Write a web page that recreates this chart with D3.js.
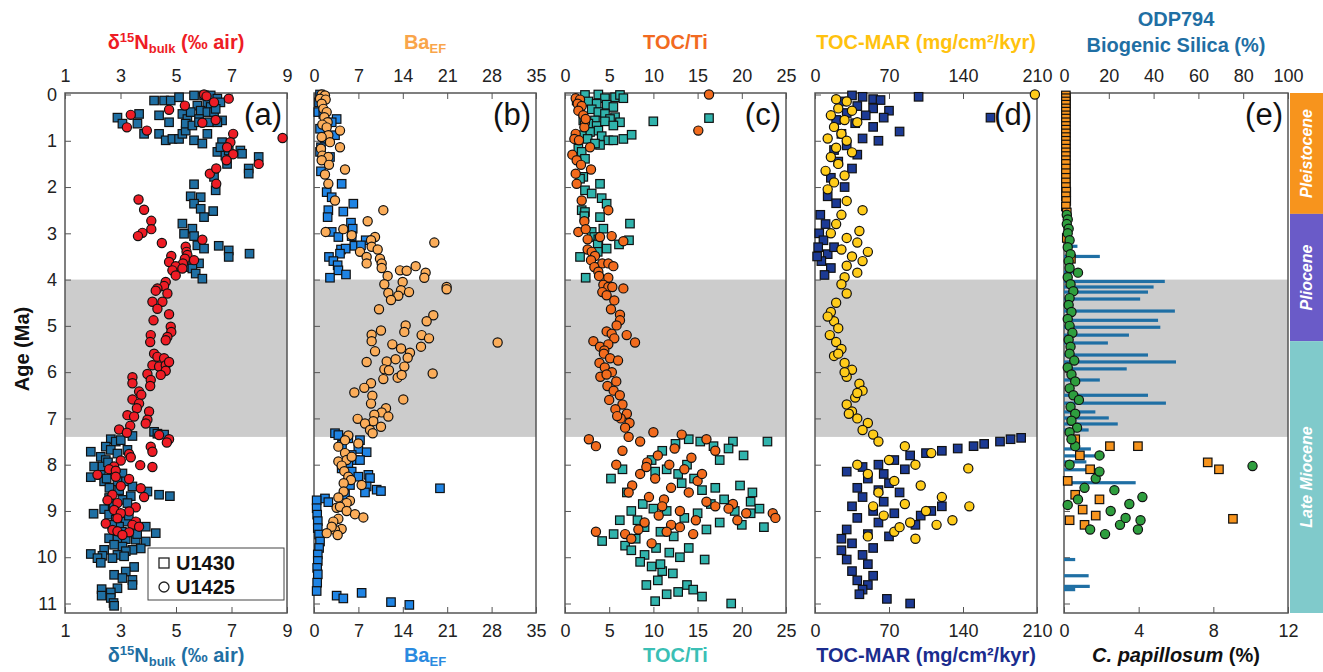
<!DOCTYPE html>
<html>
<head>
<meta charset="utf-8">
<script src="https://cdn.jsdelivr.net/npm/d3@7"></script>
<style>
  body { margin: 0; background: #fff; }
  svg text { font-family: "Liberation Sans", Arial, sans-serif; }
</style>
</head>
<body>
<div id="chart"></div>
<script>
// ---- data: [value, age Ma] ----
const d15nU1430 = [[4.21,0.13],[4.57,0.13],[4.81,0.13],[5.11,0.06],[5.65,0.02],[6.01,0.02],[6.25,0.02],[6.49,0.09],[6.13,0.2],[5.77,0.24],[6.25,0.27],[6.6,0.17],[2.89,0.5],[3.07,0.63],[3.67,0.42],[4.39,0.45],[4.75,0.6],[5.23,0.42],[5.41,0.53],[5.53,0.38],[5.89,0.35],[6.13,0.38],[6.37,0.38],[6.43,0.31],[6.66,0.56],[5.83,0.53],[3.61,0.63],[3.85,0.85],[4.39,0.85],[4.63,0.99],[4.87,0.96],[5.11,0.96],[5.23,0.85],[5.35,0.78],[5.35,0.63],[5.65,0.99],[5.95,1.06],[6.13,0.85],[5.59,0.67],[5.83,0.6],[6.19,0.6],[6.49,0.6],[6.66,1.03],[6.49,1.24],[6.6,1.14],[6.78,1.32],[6.9,1.21],[7.32,1.21],[7.38,1.28],[6.84,1.5],[7.62,1.6],[7.62,1.71],[7.98,1.35],[6.37,1.78],[6.43,2.07],[5.65,1.94],[5.53,2.2],[5.89,2.22],[5.65,2.36],[5.89,2.47],[6.01,2.65],[6.34,2.52],[5.23,2.79],[5.59,2.9],[5.29,3.01],[5.65,3.06],[5.77,3.26],[6.01,3.33],[6.54,3.27],[6.9,3.37],[6.9,3.51],[7.65,3.44],[5.41,3.73],[5.83,3.65],[5.59,3.76],[5.71,3.87],[5.95,3.98],
  [3.43,7.38],[4.21,7.29],[4.33,7.33],[4.57,7.35],[2.65,7.45],[2.83,7.5],[3.01,7.47],[2.47,7.61],[2.65,7.68],[2.89,7.76],[3.25,7.68],[1.93,7.72],[2.29,7.83],[2.47,7.9],[2.05,8.04],[2.35,8.04],[1.93,8.27],[2.29,8.22],[2.41,8.36],[3.07,8.19],[3.19,8.36],[2.89,8.36],[3.43,8.47],[3.97,8.58],[4.39,8.65],[4.78,8.68],[3.37,8.68],[2.59,8.72],[3.07,8.76],[3.25,8.83],[2.03,9.06],[2.41,8.96],[2.59,9.08],[2.83,9.19],[3.19,9.23],[3.55,9.27],[3.91,9.34],[4.27,9.48],[2.95,9.34],[2.59,9.59],[2.89,9.62],[3.19,9.61],[3.55,9.62],[3.91,9.66],[3.73,9.81],[3.43,9.84],[3.07,9.77],[2.77,9.73],[2.41,9.84],[3.19,9.87],[2.89,9.95],[2.35,9.97],[1.93,9.93],[2.17,10.02],[2.29,10.12],[2.71,10.02],[3.13,9.98],[3.49,10.21],[3.19,10.31],[2.77,10.38],[3.07,10.45],[3.43,10.49],[3.43,10.6],[2.89,10.67],[2.32,10.69],[2.32,10.83],[2.65,10.76],[2.65,10.88],[2.75,10.99],[2.77,11.05],
  [2.55,7.95],[2.75,8.1],[2.6,8.5],[2.95,8.55],[2.75,8.9],[3.05,9.45],[2.7,9.3],[3.3,9.1],[2.5,8.3],[3.6,9.5]];
const d15nU1425 = [[6.01,0.0],[6.1,0.04],[6.37,0.17],[6.9,0.09],[5.32,0.24],[4.75,0.33],[3.37,0.44],[3.23,0.71],[3.95,0.78],[5.95,0.61],[6.43,0.55],[7.06,0.85],[6.96,1.03],[6.84,1.14],[7.06,1.29],[6.82,1.42],[7.98,1.5],[8.84,0.94],[6.22,1.71],[6.45,1.6],[6.45,1.93],[3.65,2.27],[3.85,2.49],[4.11,2.73],[4.11,2.91],[3.79,2.99],[3.63,3.06],[4.49,3.21],[5.35,3.29],[5.38,3.4],[5.41,3.47],[5.32,3.55],[5.25,3.65],[5.65,3.58],[5.95,3.14],[4.83,3.49],[4.75,3.62],[4.99,3.71],[5.23,3.76],[4.87,3.8],[4.99,3.91],[4.63,4.05],[4.57,4.14],[4.33,4.19],[4.27,4.24],[4.69,4.3],[4.51,4.48],[4.15,4.48],[4.33,4.63],[4.75,4.75],[4.19,4.88],[4.81,5.02],[4.83,5.13],[4.69,5.24],[4.63,5.31],[4.09,5.2],[4.07,5.35],
  [4.21,5.6],[4.33,5.67],[4.57,5.7],[4.15,5.85],[4.39,5.88],[4.63,5.85],[4.75,5.78],[4.63,5.97],[4.45,6.06],[3.97,6.04],[3.43,6.11],[3.43,6.24],[4.09,6.17],[4.07,6.3],[3.67,6.42],[3.75,6.49],[3.43,6.59],[3.67,6.68],[3.59,6.78],[4.03,6.85],[3.25,6.93],[3.49,6.96],[3.97,7.03],[3.91,7.11],[3.35,7.16],[2.95,7.24],[3.23,7.31],[4.39,7.36],[4.75,7.45],[4.67,7.52],[4.09,7.61],[4.15,7.72],[3.31,7.77],[3.37,7.84],[3.71,8.01],[4.15,8.05],[3.01,7.91],[2.77,8.04],[2.59,8.1],[2.83,8.13],[2.17,8.22],[2.83,8.26],[3.31,8.31],[3.01,8.46],[3.73,8.51],[3.85,8.7],[2.71,8.65],[2.89,8.83],[2.53,8.77],[3.55,8.92],[3.31,9.01],[2.77,8.98],[3.01,9.05],[2.89,9.16],[2.47,9.27],[3.55,9.23],[3.43,9.3],[3.67,9.34],[2.71,9.41],[2.89,9.44],[3.31,9.46],[3.07,9.52]];

const baU1430 = [[0.95,0.0],[0.79,0.17],[0.68,0.38],[1.47,0.42],[3.57,0.53],[2.79,0.6],[0.95,0.74],[3.31,0.88],[1.73,0.96],[1.1,1.14],[0.95,1.24],[2.52,1.35],[1.1,1.66],[4.36,1.93],[2.0,2.11],[2.79,2.22],[6.2,2.36],[2.26,2.5],[4.62,2.53],[2.15,2.65],[5.83,2.77],[6.1,2.9],[2.79,2.97],[3.84,3.08],[5.94,3.06],[8.15,3.15],[6.36,3.27],[7.41,3.26],[4.26,3.35],[4.99,3.33],[4.1,3.44],[2.36,3.51],[3.05,3.6],[3.73,3.69],[3.84,3.8],[5.04,3.89],[2.52,3.96],
  [3.31,7.32],[3.84,7.36],[5.41,7.43],[7.25,7.47],[4.41,7.57],[6.99,7.66],[8.3,7.73],[5.94,7.79],[6.46,7.9],[7.25,7.9],[5.41,7.97],[4.36,8.08],[5.94,8.15],[6.99,8.26],[8.57,8.22],[8.83,8.29],[5.67,8.44],[8.3,8.47],[9.88,8.54],[10.56,8.57],[19.86,8.51],[8.04,8.6],[4.89,8.65],[1.73,8.73],[0.42,8.77],[2.26,8.81],
  [0.42,8.94],[0.5,9.08],[0.6,9.22],[0.6,9.37],[0.8,9.51],[0.95,9.66],[0.8,9.8],[0.6,9.94],[0.6,10.08],[0.5,10.23],[0.6,10.37],[0.5,10.55],[0.42,10.73],[3.57,10.83],[4.62,10.89],[7.51,10.77],[12.14,10.97],[15.03,11.03]];
const baU1425 = [[1.21,0.0],[1.73,0.02],[0.95,0.09],[1.84,0.11],[1.21,0.2],[1.47,0.31],[2.0,0.38],[1.63,0.49],[2.15,0.6],[1.31,0.65],[2.0,0.71],[4.1,0.78],[2.26,0.88],[1.21,0.92],[2.52,1.03],[4.1,1.14],[1.1,1.17],[1.31,1.32],[2.26,1.35],[1.21,1.42],[2.36,1.52],[4.89,1.62],[1.73,1.73],[2.26,1.93],[3.31,2.29],[10.93,2.5],[8.46,2.74],[1.84,2.97],[4.62,2.91],[5.94,3.04],[9.62,3.08],[8.99,3.15],[9.09,3.29],[10.04,3.35],[7.25,3.4],[8.3,3.51],[8.3,3.65],[10.4,3.55],[10.67,3.65],[10.67,3.75],[18.97,3.2],[13.56,3.8],[14.61,3.81],[16.03,3.71],[17.6,3.85],[17.39,3.96],[11.61,3.92],[13.98,4.05],[11.09,4.1],[20.91,4.16],[20.91,4.21],[11.72,4.29],[13.72,4.23],[14.98,4.27],[13.29,4.35],[12.14,4.44],[10.25,4.64],[18.81,4.77],[17.76,4.9],[14.45,4.99],[14.24,5.13],[10.56,5.1],[9.09,5.19],[9.09,5.33],[16.97,5.2],[18.13,5.27],[28.95,5.36],[12.35,5.4],[13.72,5.49],[15.13,5.58],[16.87,5.45],[9.62,5.55],
  [8.3,5.78],[11.46,5.77],[12.87,5.72],[14.77,5.69],[14.24,5.88],[11.09,5.94],[11.82,5.96],[10.93,6.15],[13.19,6.12],[13.82,6.06],[18.71,6.03],[8.99,6.24],[7.93,6.34],[6.36,6.44],[9.2,6.51],[8.99,6.68],[14.08,6.59],[11.35,6.78],[10.67,6.87],[11.72,6.96],[9.51,6.92],[9.35,7.06],[6.88,7.01],[8.04,7.11],[10.56,7.18],[8.83,7.25],[9.25,7.32],
  [5.41,7.37],[4.89,7.47],[6.99,7.54],[3.84,7.61],[4.89,7.75],[3.84,7.93],[5.15,7.9],[5.94,7.83],[4.36,8.02],[4.78,8.14],[5.41,8.26],[5.83,8.33],[4.68,8.4],[4.68,8.58],[7.51,8.44],[3.84,8.71],[5.67,8.78],[5.15,8.83],[3.57,8.93],[4.1,8.91],[5.15,9.0],[6.46,9.07],[7.78,9.14],[3.84,9.17],[3.05,9.23],[4.36,9.39],[3.31,9.41],[2.79,9.34],[2.0,9.48],[3.73,9.52]];

const tocTiU1430 = [[2.26,0.01],[3.77,0.0],[4.52,0.08],[5.66,0.06],[6.22,0.01],[6.6,0.08],[1.32,0.13],[2.64,0.15],[3.58,0.2],[4.71,0.22],[5.47,0.27],[1.7,0.29],[3.02,0.32],[3.77,0.38],[4.52,0.42],[5.66,0.49],[5.09,0.53],[3.39,0.56],[2.07,0.56],[2.64,0.63],[3.58,0.68],[4.52,0.58],[6.22,0.6],[5.47,0.67],[9.99,0.58],[16.29,0.51],[3.77,0.78],[2.83,0.81],[1.89,0.88],[4.15,0.9],[4.9,0.99],[5.47,0.99],[6.6,0.96],[7.54,0.87],[2.56,0.96],[3.96,1.09],[3.39,1.06],[1.51,1.17],[1.89,1.24],[2.26,1.39],[2.07,1.78],[1.7,1.82],[3.96,1.93],[2.26,2.07],[3.02,2.14],[4.15,2.24],[4.71,2.36],[1.89,2.5],[2.26,2.54],[2.19,2.63],[3.96,2.65],[7.35,2.79],[4.34,2.9],[3.02,2.97],[3.32,3.08],[3.77,3.13],[3.7,3.24],[6.11,3.24],[7.24,3.15],[4.71,3.33],[3.7,3.4],[1.7,3.51],[3.58,3.73],[2.34,3.96],
  [14.0,7.45],[15.3,7.5],[16.8,7.6],[19.0,7.5],[22.9,7.5],[18.5,7.65],[20.2,7.8],[17.5,7.9],[12.5,7.55],[11.0,7.7],[9.8,7.9],[13.8,8.0],[11.5,8.1],[12.8,8.2],[10.2,8.15],[13.2,8.4],[14.6,8.3],[15.5,8.55],[17.0,8.5],[19.8,8.45],[21.2,8.6],[18.0,8.75],[16.5,8.85],[21.0,8.8],[22.0,8.95],[19.2,9.0],[15.0,9.05],[13.5,9.15],[11.5,9.0],[10.0,8.95],[8.8,8.85],[7.5,9.0],[6.2,9.2],[9.0,9.35],[10.8,9.45],[12.3,9.55],[8.0,9.6],[5.5,9.5],[4.2,9.65],[6.8,9.75],[7.5,9.85],[9.0,9.95],[10.3,9.8],[11.8,9.9],[13.0,10.0],[8.5,10.1],[9.8,10.2],[11.0,10.3],[12.2,10.35],[10.5,10.5],[9.2,10.6],[13.8,10.6],[14.5,10.7],[11.5,10.8],[10.2,10.95],[15.5,10.85],[18.8,11.0],[21.0,9.05],[20.0,9.3],[16.0,9.4],[14.0,9.8],[12.8,10.75],[10.8,10.15],[8.2,9.2],[7.0,8.6],[6.5,8.1],[5.2,8.3],[17.5,9.25],[22.5,9.35],[15.8,10.05]];
const tocTiU1425 = [[1.21,0.08],[1.7,0.11],[1.43,0.2],[1.89,0.25],[1.51,0.35],[2.07,0.45],[2.26,0.61],[2.19,0.71],[2.34,0.53],[1.21,0.85],[1.06,0.96],[1.58,0.99],[2.83,1.14],[0.83,1.3],[1.32,1.42],[1.81,1.52],[2.94,1.62],[1.21,1.71],[1.32,1.93],[1.89,2.29],[4.9,2.5],[2.19,2.74],[1.51,2.97],[2.34,2.91],[2.56,3.13],[3.96,3.08],[5.28,3.06],[6.6,3.17],[2.56,3.35],[3.02,3.4],[3.39,3.49],[2.94,3.58],[4.22,3.65],[4.9,3.65],[5.47,3.71],[3.32,3.73],[3.77,3.83],[3.85,3.92],[4.9,3.96],[4.34,4.11],[4.9,4.16],[5.35,4.16],[6.6,4.19],[4.22,4.27],[4.71,4.34],[5.58,4.45],[5.2,4.64],[6.22,4.76],[6.22,4.88],[5.84,4.99],[4.71,5.12],[5.28,5.17],[5.58,5.27],[6.98,5.2],[7.92,5.36],[3.21,5.33],[3.96,5.45],[4.9,5.4],[4.45,5.53],[16.29,0.0],[15.08,0.78],
  [4.4,5.6],[5.1,5.7],[3.9,5.8],[4.5,5.9],[5.3,6.0],[4.0,6.1],[5.8,6.2],[4.8,6.3],[5.5,6.4],[6.2,6.5],[5.0,6.6],[6.5,6.7],[5.7,6.8],[7.0,6.9],[6.3,7.0],[7.3,7.1],[6.8,7.2],[5.9,6.95],[4.7,6.05],[6.0,5.75],
  [2.7,7.45],[3.5,7.6],[7.2,7.4],[8.5,7.5],[10.0,7.3],[13.2,7.35],[16.0,7.45],[12.4,7.65],[10.5,7.8],[14.3,7.85],[17.0,7.7],[9.3,7.95],[11.8,8.0],[13.5,8.1],[8.5,8.2],[10.2,8.3],[15.0,8.35],[7.6,8.45],[12.0,8.5],[14.0,8.6],[9.5,8.7],[11.2,8.75],[16.0,8.8],[19.0,8.85],[18.5,8.95],[20.5,9.05],[19.5,9.2],[23.5,9.05],[23.8,9.15],[13.0,9.0],[10.6,9.1],[9.0,9.25],[12.0,9.3],[8.3,9.4],[6.8,9.5],[11.5,9.45],[14.5,9.5],[3.5,9.45],[7.5,9.6],[9.8,9.7],[13.0,9.35],[17.0,8.9],[15.5,8.2],[5.8,8.0],[6.5,7.7],[11.0,8.9],[14.8,9.2],[9.2,8.05],[7.2,8.6]];

const marU1430 = [[35,0.02],[45,0.05],[55,0.1],[62,0.12],[98,0.05],[25,0.15],[40,0.25],[55,0.3],[70,0.35],[30,0.4],[48,0.45],[65,0.5],[166,0.5],[20,0.55],[38,0.62],[55,0.7],[80,0.8],[25,0.85],[45,0.95],[60,1.0],[30,1.1],[18,1.2],[40,1.3],[22,1.45],[35,1.6],[15,1.8],[28,2.0],[12,2.2],[20,2.35],
  [5,2.6],[10,2.8],[4,3.0],[8,3.15],[3,3.3],[12,3.45],[6,3.6],[15,3.75],[9,3.9],[2,3.5],[18,3.3],
  [195,7.42],[185,7.45],[175,7.5],[160,7.55],[150,7.6],[135,7.65],[120,7.7],[105,7.75],[90,7.8],[75,7.9],[60,8.0],[45,8.05],[85,8.1],[65,8.2],[50,8.3],[70,8.4],[40,8.5],[60,8.55],[80,8.6],[45,8.7],[65,8.8],[35,8.9],[55,9.0],[75,9.05],[40,9.15],[60,9.25],[95,9.3],[30,9.4],[50,9.5],[70,9.55],[35,9.7],[55,9.8],[25,9.85],[45,9.95],[30,10.05],[50,10.15],[35,10.3],[55,10.4],[40,10.5],[50,10.6],[45,10.7],[42,10.8],[68,10.9],[90,11.0],[100,9.1],[110,9.0],[120,8.9],[30,8.15],[25,9.6]];
const marU1425 = [[208,0.0],[20,0.1],[30,0.15],[22,0.3],[35,0.35],[15,0.45],[28,0.55],[40,0.6],[18,0.7],[25,0.85],[12,0.95],[30,1.0],[20,1.15],[35,1.25],[15,1.35],[22,1.5],[10,1.65],[28,1.75],[18,1.9],[12,2.05],[30,2.3],[25,2.6],[45,2.5],[20,2.8],[15,3.0],[30,3.1],[40,3.2],[25,3.35],[35,3.5],[45,3.6],[30,3.7],[40,3.85],[28,3.95],[50,3.4],[42,2.95],
  [25,4.1],[30,4.3],[20,4.5],[15,4.7],[18,4.9],[22,5.05],[14,5.2],[20,5.35],[25,5.5],[18,5.65],[28,5.8],[35,5.95],[30,6.1],[42,6.25],[45,6.4],[38,6.55],[30,6.7],[35,6.85],[40,7.0],[50,7.1],[45,7.25],[55,7.35],[28,6.0],[22,5.6],[12,4.8],[32,6.9],[40,6.45],
  [60,7.5],[85,7.6],[110,7.75],[70,7.9],[95,8.0],[145,8.08],[50,8.2],[75,8.35],[100,8.45],[60,8.6],[120,8.7],[146,8.9],[85,8.85],[105,9.0],[65,9.1],[90,9.25],[115,9.3],[75,9.45],[50,9.55],[95,9.6],[130,9.2],[40,8.0],[55,8.9],[80,9.35]];

// ODP794 biogenic silica (%) and C. papillosum (%)
const silica794 = [[6,3.28],[16,3.5],[4,3.84],[45,4.04],[40,4.16],[37.5,4.27],[34,4.42],[49.5,4.68],[42,4.88],[43,5.03],[29,5.2],[19.6,5.37],[37.5,5.63],[50,5.78],[28,5.93],[16,6.17],[37.5,6.5],[45.5,6.67],[14,6.86],[20,6.99],[24,7.12],[11,7.25],[12,7.66],[18,7.81],[10,7.94],[16,8.11],[32,8.39],[5,10.05],[11,10.4],[11.5,10.63],[5,10.7]];
const papU1430 = [[0.1,0.02],[0.1,0.08],[0.1,0.15],[0.1,0.22],[0.1,0.3],[0.1,0.37],[0.1,0.45],[0.1,0.52],[0.1,0.6],[0.1,0.68],[0.1,0.76],[0.1,0.84],[0.1,0.92],[0.1,1.0],[0.1,1.08],[0.1,1.17],[0.1,1.25],[0.1,1.33],[0.1,1.42],[0.1,1.5],[0.1,1.6],[0.1,1.7],[0.1,1.8],[0.1,1.9],[0.1,2.0],[0.12,2.1],[0.1,2.2],[0.12,2.3],[0.1,2.42],[0.15,2.55],[0.37,3.55],[0.15,3.1],
  [2.46,7.6],[3.96,7.6],[1.4,8.1],[0.6,8.65],[1.0,8.97],[0.3,9.2],[1.7,9.1],[1.1,9.3],[7.7,7.95],[8.3,8.1],[9.05,9.17],[0.6,7.45],[0.85,7.8],[0.2,8.35],[1.9,8.75]];
const papU1425 = [[0.15,2.6],[0.2,2.7],[0.15,2.8],[0.25,2.9],[0.2,3.0],[0.3,3.15],[0.2,3.3],[0.35,3.45],[0.25,3.6],[0.75,3.85],[0.3,3.75],[0.2,3.95],[0.35,4.1],[0.5,4.25],[0.3,4.4],[0.25,4.55],[0.4,4.7],[0.2,4.85],[0.3,5.0],[0.45,5.15],[0.25,5.3],[0.35,5.45],[0.3,5.6],[0.55,5.75],[0.2,5.9],[0.4,6.05],[0.6,6.2],[0.3,6.35],[0.5,6.5],[0.8,6.6],[0.35,6.75],[0.6,6.9],[0.4,7.05],[0.7,7.2],[0.3,7.3],
  [10.1,8.03],[4.2,8.7],[3.5,8.85],[4.1,9.2],[2.5,9.0],[3.0,9.3],[3.3,9.15],[1.7,8.3],[1.1,8.5],[1.9,7.8],[0.6,7.6],[0.3,8.0],[1.4,9.4],[2.2,9.5],[0.75,8.75],[0.2,8.87],[0.4,7.45],[1.9,8.15],[2.7,8.55],[3.96,9.4]];

// ---- ticks, epochs ----
const ageTicks = [0,1,2,3,4,5,6,7,8,9,10,11];
const aTicks = [1,3,5,7,9];
const bTicks = [0,7,14,21,28,35];
const cTicks = [0,5,10,15,20,25];
const dTicks = [0,70,140,210];
const eTopTicks = [0,20,40,60,80,100];
const eBotTicks = [0,4,8,12];
const epochNames = ["Pleistocene", "Pliocene", "Late Miocene"];
const epochBounds = [0, 2.58, 5.33, 11.25];
const epochColors = ["#f7941d", "#6a5bc8", "#80cacb"];
const greyBand = [4, 7.4];

// ---- layout ----
const W = 1323, H = 672;
const plotTop = 93, plotBottom = 613;
const svg = d3.select("#chart").append("svg").attr("width", W).attr("height", H);
const y = d3.scaleLinear().domain([0, 11]).range([94.5, 603.5]);

function title(g, x, yy, parts, color, size) {
  const t = g.append("text").attr("x", x).attr("y", yy).attr("text-anchor", "middle")
    .attr("fill", color).attr("font-weight", "bold").attr("font-size", size);
  let off = 0;
  parts.forEach(p => {
    const shift = p.sup ? -7 : p.sub ? 4 : 0;
    t.append("tspan").text(p.t).attr("dy", shift - off)
      .attr("font-size", p.sup || p.sub ? size * 0.65 : size)
      .attr("font-style", p.it ? "italic" : null);
    off = shift;
  });
}

const panels = [
  {id: "a", range: [65, 287], dom: [1, 9], ticks: aTicks, step: 1, sq: d15nU1430, ci: d15nU1425, sqFill: "#1f6fa3", ciFill: "#ee1c25",
   topT: [{t:"δ"},{t:"15",sup:1},{t:"N"},{t:"bulk",sub:1},{t:" (‰ air)"}], topC: "#ee1c25", botC: "#1f6fa3"},
  {id: "b", range: [314, 536], dom: [0, 35], ticks: bTicks, step: 3.5, sq: baU1430, ci: baU1425, sqFill: "#1f84e4", ciFill: "#fbad5a",
   topT: [{t:"Ba"},{t:"EF",sub:1}], topC: "#f9a54a", botC: "#2a8ae0"},
  {id: "c", range: [565, 786], dom: [0, 25], ticks: cTicks, step: 2.5, sq: tocTiU1430, ci: tocTiU1425, sqFill: "#30b3ac", ciFill: "#f26b1d",
   topT: [{t:"TOC/Ti"}], topC: "#f26a21", botC: "#3bbfb5"},
  {id: "d", range: [815, 1037], dom: [0, 210], ticks: dTicks, step: 35, sq: marU1430, ci: marU1425, sqFill: "#1c3a94", ciFill: "#ffcc1a",
   topT: [{t:"TOC-MAR (mg/cm²/kyr)"}], topC: "#ffc20e", botC: "#1b2c8e"}
];
const eRange = [1064, 1288];

// grey band for all panels
[...panels.map(p => p.range), eRange].forEach(r => {
  svg.append("rect").attr("x", r[0]).attr("y", y(greyBand[0])).attr("width", r[1] - r[0])
    .attr("height", y(greyBand[1]) - y(greyBand[0])).attr("fill", "#cccccc");
});

function yTicks(r, labels) {
  const g = svg.append("g").attr("transform", `translate(${r[0]},0)`);
  g.call(d3.axisLeft(y).tickValues(d3.range(0, 11.2, 0.25)).tickSize(-3).tickFormat(""));
  g.call(d3.axisLeft(y).tickValues(ageTicks).tickSize(-6).tickPadding(8).tickFormat(labels ? d3.format("d") : ""));
  g.selectAll("path.domain").remove();
  g.selectAll("line").attr("stroke", "#555");
  g.selectAll("text").attr("font-size", 18).attr("fill", "#222");
}

function xAxes(x, ticks, step) {
  const minor = d3.range(x.domain()[0], x.domain()[1] + 1e-6, step);
  [["axisTop", plotTop], ["axisBottom", plotBottom]].forEach(([fn, yy]) => {
    const g = svg.append("g").attr("transform", `translate(0,${yy})`);
    g.call(d3[fn](x).tickValues(minor).tickSize(-6).tickFormat(""));
    g.call(d3[fn](x).tickValues(ticks).tickSize(-6).tickPadding(11).tickFormat(d3.format("d")));
    g.selectAll("path.domain").remove();
    g.selectAll("line").attr("stroke", "#555");
    g.selectAll("text").attr("font-size", 18).attr("fill", "#222");
  });
}

function marks(x, sq, ci, sqFill, ciFill) {
  const s = 8.5;
  svg.append("g").selectAll("rect").data(sq).join("rect")
    .attr("x", d => x(d[0]) - s / 2).attr("y", d => y(d[1]) - s / 2)
    .attr("width", s).attr("height", s)
    .attr("fill", sqFill).attr("stroke", "#111").attr("stroke-width", 1.2);
  svg.append("g").selectAll("circle").data(ci).join("circle")
    .attr("cx", d => x(d[0])).attr("cy", d => y(d[1])).attr("r", 4.6)
    .attr("fill", ciFill).attr("stroke", "#111").attr("stroke-width", 1.2);
}

function frame(r) {
  svg.append("rect").attr("x", r[0]).attr("y", plotTop).attr("width", r[1] - r[0])
    .attr("height", plotBottom - plotTop).attr("fill", "none").attr("stroke", "#555").attr("stroke-width", 1.5);
}

function panelLabel(r, id) {
  svg.append("text").attr("x", r[1] - 5).attr("y", 125).attr("text-anchor", "end")
    .attr("font-size", 31).attr("fill", "#111").text(`(${id})`);
}

panels.forEach(p => {
  const x = d3.scaleLinear().domain(p.dom).range(p.range);
  frame(p.range);
  yTicks(p.range, p.id === "a");
  xAxes(x, p.ticks, p.step);
  marks(x, p.sq, p.ci, p.sqFill, p.ciFill);
  panelLabel(p.range, p.id);
  const cx = (p.range[0] + p.range[1]) / 2;
  title(svg, cx, 49, p.topT, p.topC, 20);
  title(svg, cx, 662, p.topT, p.botC, 20);
});

// panel e: two x scales
const xTopE = d3.scaleLinear().domain([0, 100]).range(eRange);
const xBotE = d3.scaleLinear().domain([0, 12]).range(eRange);
frame(eRange);
yTicks(eRange, false);
{
  const gT = svg.append("g").attr("transform", `translate(0,${plotTop})`);
  gT.call(d3.axisTop(xTopE).tickValues(d3.range(0, 101, 10)).tickSize(-6).tickFormat(""));
  gT.call(d3.axisTop(xTopE).tickValues(eTopTicks).tickSize(-6).tickPadding(11).tickFormat(d3.format("d")));
  const gB = svg.append("g").attr("transform", `translate(0,${plotBottom})`);
  gB.call(d3.axisBottom(xBotE).tickValues(d3.range(0, 12.1, 2)).tickSize(-6).tickFormat(""));
  gB.call(d3.axisBottom(xBotE).tickValues(eBotTicks).tickSize(-6).tickPadding(11).tickFormat(d3.format("d")));
  [gT, gB].forEach(g => {
    g.selectAll("path.domain").remove();
    g.selectAll("line").attr("stroke", "#555");
    g.selectAll("text").attr("font-size", 18).attr("fill", "#222");
  });
}
svg.append("g").selectAll("rect").data(silica794).join("rect")
  .attr("x", xTopE(0)).attr("y", d => y(d[1]) - 1.6)
  .attr("width", d => xTopE(d[0]) - xTopE(0)).attr("height", 3.2)
  .attr("fill", "#1f6fa4");
marks(xBotE, papU1430, papU1425, "#f7941d", "#2e9e3e");
panelLabel(eRange, "e");
title(svg, 1176, 26, [{t:"ODP794"}], "#1f6fa4", 20);
title(svg, 1176, 52, [{t:"Biogenic Silica (%)"}], "#1f6fa4", 20);
title(svg, 1176, 662, [{t:"C. papillosum", it:1}, {t:" (%)"}], "#111", 20);

// epoch bar
epochNames.forEach((n, i) => {
  const y0 = i === 0 ? plotTop : y(epochBounds[i]);
  const y1 = i === epochNames.length - 1 ? plotBottom : y(epochBounds[i + 1]);
  svg.append("rect").attr("x", 1290).attr("y", y0).attr("width", 33).attr("height", y1 - y0)
    .attr("fill", epochColors[i]);
  svg.append("text").attr("transform", `translate(1312,${(y0 + y1) / 2}) rotate(-90)`)
    .attr("text-anchor", "middle").attr("fill", "#fff").attr("font-size", 16)
    .attr("font-weight", "bold").attr("font-style", "italic").text(n);
});

// legend in panel a
const lg = svg.append("g");
lg.append("rect").attr("x", 148).attr("y", 548).attr("width", 136).attr("height", 52)
  .attr("fill", "#fff").attr("stroke", "#444").attr("stroke-width", 1);
lg.append("rect").attr("x", 159).attr("y", 558).attr("width", 10).attr("height", 10)
  .attr("fill", "none").attr("stroke", "#222").attr("stroke-width", 1.3);
lg.append("circle").attr("cx", 164).attr("cy", 587).attr("r", 5)
  .attr("fill", "none").attr("stroke", "#222").attr("stroke-width", 1.3);
lg.append("text").attr("x", 176).attr("y", 570).attr("font-size", 20).attr("font-weight", "bold").attr("fill", "#111").text("U1430");
lg.append("text").attr("x", 176).attr("y", 594).attr("font-size", 20).attr("font-weight", "bold").attr("fill", "#111").text("U1425");

// y-axis title
svg.append("text").attr("transform", `translate(29,${y(5.5)}) rotate(-90)`)
  .attr("text-anchor", "middle").attr("font-size", 20).attr("font-weight", "bold")
  .attr("fill", "#111").text("Age (Ma)");
</script>
</body>
</html>
